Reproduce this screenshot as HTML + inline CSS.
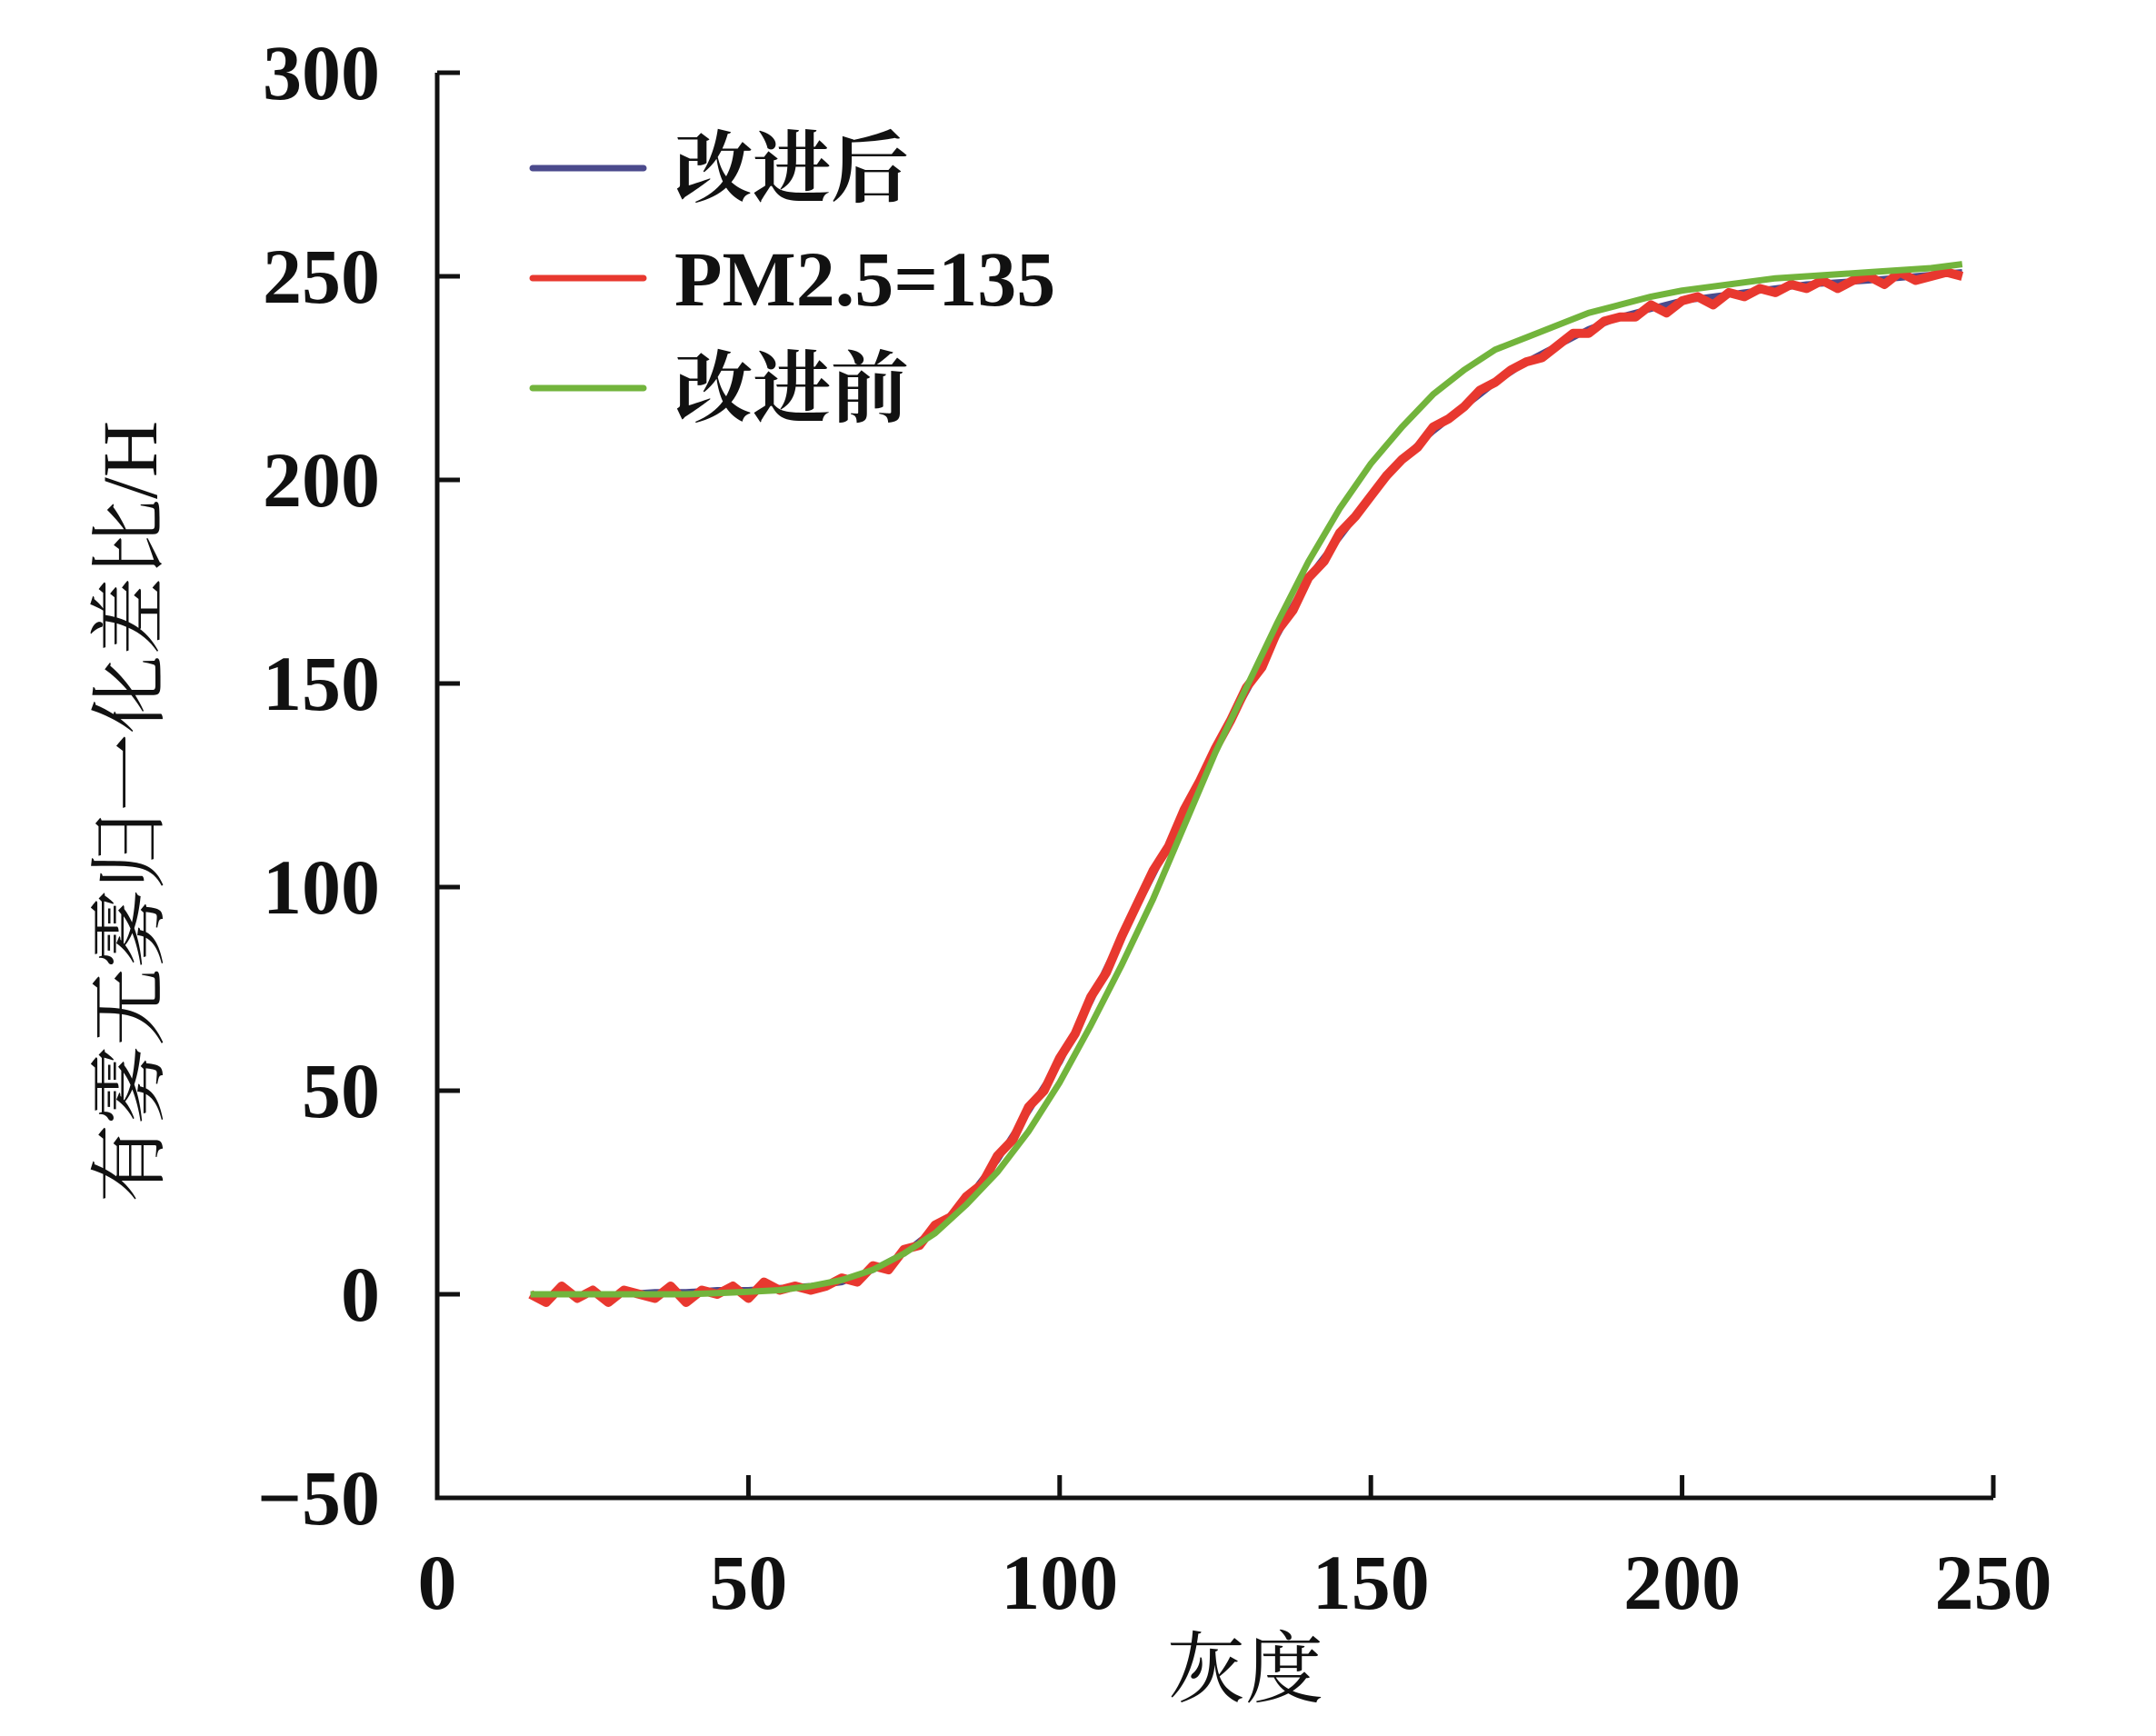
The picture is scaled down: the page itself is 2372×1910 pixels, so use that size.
<!DOCTYPE html>
<html><head><meta charset="utf-8"><style>
html,body{margin:0;padding:0;background:#fff;}
svg{display:block;}
text{font-family:"Liberation Serif","Noto Serif CJK SC",serif;fill:#111;}
</style></head><body>
<svg id="chart" width="2372" height="1910" viewBox="0 0 2372 1910" xmlns="http://www.w3.org/2000/svg">
<g id="plot"></g>
</svg>
<script>
const xTicks=[0,50,100,150,200,250];
const yTicks=[-50,0,50,100,150,200,250,300];
const yTickLabels=["\u221250","0","50","100","150","200","250","300"];
const greenX=[15,20,25,30,35,40,45,50,55,60,65,70,75,80,85,90,95,100,105,110,115,120,125,130,135,140,145,150,155,160,165,170,175,180,185,190,195,200,205,210,215,220,225,230,235,240,245];
const greenY=[0,0,0,0,0,0,0.3,0.6,1,2,3.5,6,10,15,22,30,40,52,66,81,97,115,133,149,165,180,193,204,213,221,227,232,235,238,241,243,245,246.5,247.5,248.5,249.5,250,250.5,251,251.5,252,253];
const blueX=[15,20,25,30,35,40,45,50,55,60,65,70,75,80,85,90,95,100,105,110,115,120,125,130,135,140,145,150,155,160,165,170,175,180,185,190,195,200,210,220,230,245];
const blueY=[0,0,0,0,0.5,0.5,1,1,1.5,2,3,6,10,16,23,33,45,57,72,88,103,118,134,148,162,176,186,196,205,212,218,224,229,233,237,240,242,244,246,248,249,251];
const redX=[];for(let v=15;v<=245.01;v+=2.5)redX.push(v);
const redY=[0,-2,2,-1,1,-2,1,0,-1,2,-2,1,0,2,-1,3,1,2,1,
2,4,3,7,6,11,12,17,19,24,27,34,38,46,50,58,64,73,79,88,96,104,110,119,126,134,141,149,154,163,168,176,180,187,191,196,201,205,208,213,215,218,222,224,227,229,230,233,236,236,239,240,240,243,241,244,245,243,246,245,247,246,248,247,249,247,249,250,248,251,249,250,251,250];
const legendLabels=["改进后","PM2.5=135","改进前"];
const legendColors=["#4b4a8c","#e8382f","#72b43c"];

const X0=481,XPER=342.4/50,Y0=1424,YPER=224/50;
const sx=v=>X0+v*XPER, sy=v=>Y0-v*YPER;
const NS="http://www.w3.org/2000/svg";
const g=document.getElementById('plot');
function mk(tag,attrs,parent){const e=document.createElementNS(NS,tag);for(const k in attrs)e.setAttribute(k,attrs[k]);(parent||g).appendChild(e);return e;}

let ax=mk('path',{d:`M${sx(0)},${sy(300)} L${sx(0)},${sy(-50)} L${sx(250)},${sy(-50)}`,fill:'none',stroke:'#111','stroke-width':5});


yTicks.forEach((t,i)=>{
  let l=mk('line',{x1:sx(0),x2:sx(0)+25,y1:sy(t),y2:sy(t),stroke:'#111','stroke-width':5});
  
  
  let tx=mk('text',{x:418,y:sy(t)+29,'text-anchor':'end','font-size':86,'font-weight':'bold'});
  tx.textContent=yTickLabels[i];
  
  
});
xTicks.forEach(t=>{
  let l=mk('line',{x1:sx(t),x2:sx(t),y1:sy(-50),y2:sy(-50)-25,stroke:'#111','stroke-width':5});
  
  
  let tx=mk('text',{x:sx(t),y:1770,'text-anchor':'middle','font-size':86,'font-weight':'bold'});
  tx.textContent=String(t);
  
  
});
let xt=mk('text',{x:1370,y:1866,'text-anchor':'middle','font-size':86});
xt.textContent='灰度';


let yt=mk('text',{x:0,y:0,'text-anchor':'middle','font-size':86,transform:'translate(172,893) rotate(-90)'});
yt.textContent='有雾无雾归一化差比/H';



function line(xs,ys,color,w,name){
  const d=xs.map((x,i)=>(i?'L':'M')+sx(x).toFixed(1)+','+sy(ys[i]).toFixed(1)).join(' ');
  let p=mk('path',{d:d,fill:'none',stroke:color,'stroke-width':w,'stroke-linejoin':'round'});
  
  
}
line(blueX,blueY,legendColors[0],7,'series-improved');
line(redX,redY,legendColors[1],10,'series-pm25-135');
line(greenX,greenY,legendColors[2],7,'series-before');

legendLabels.forEach((lab,i)=>{
  const y=185+i*121;
  let l=mk('line',{x1:586,x2:708,y1:y,y2:y,stroke:legendColors[i],'stroke-width':7,'stroke-linecap':'round'});
  
  
  let t=mk('text',{x:742,y:y+30,'font-size':86,'font-weight':'bold'});
  t.textContent=lab;
  
  
});
</script>
</body></html>
